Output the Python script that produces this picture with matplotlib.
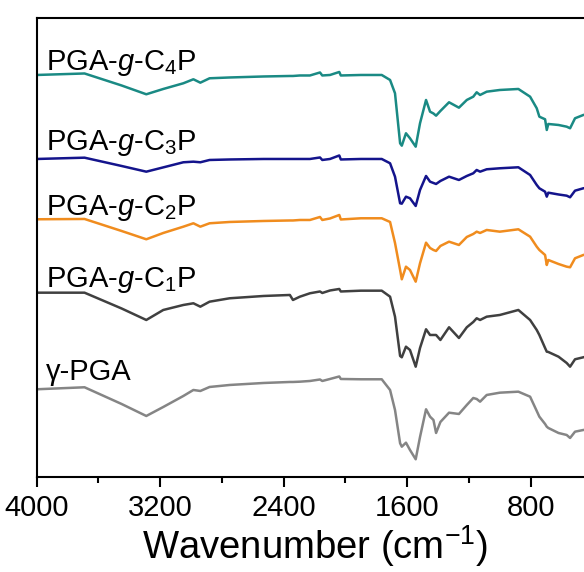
import matplotlib
matplotlib.use("Agg")
from matplotlib import pyplot as plt
from matplotlib.ticker import MultipleLocator

plt.rcParams['font.family'] = ['Liberation Sans', 'DejaVu Sans']
plt.rcParams['mathtext.fontset'] = 'custom'
plt.rcParams['mathtext.rm'] = 'Liberation Sans'
plt.rcParams['mathtext.it'] = 'Liberation Sans:italic'

# wavenumber grid (cm-1)
wavenumber = [4000, 3690, 3450, 3290, 3180, 3050, 2985, 2940, 2880, 2750, 2530, 2360,
              2340, 2295, 2230, 2165, 2150, 2100, 2040, 2030, 1900, 1765, 1711, 1679,
              1646, 1635, 1608, 1582, 1545, 1517, 1478, 1452, 1430, 1413, 1385, 1329,
              1265, 1214, 1172, 1150, 1128, 1085, 1000, 880, 804, 761, 744, 707, 696,
              686, 620, 567, 545, 513, 459, 400]

# stacked intensities (a.u.)
c4p = [402, 403.5, 391.5, 382.7, 388, 393.7, 397.7, 394.3, 398.7, 399.5, 400.5, 401,
       401, 401.5, 401.5, 404.5, 401.5, 402, 405, 401.5, 402, 402, 397, 383.7,
       333.7, 331.3, 343.7, 338.7, 330.3, 353.7, 377, 365.3, 363.5, 361.3, 366, 374.7,
       369.3, 377, 380.3, 384.7, 382, 385.3, 387, 388, 380.3, 368.7, 360.3, 357.7, 347,
       353, 352, 350.3, 348.7, 358.7, 362, 364]
c3p = [318, 319.3, 311, 305.3, 309.6, 314.7, 315.3, 314.7, 317, 317.5, 318, 318,
       318, 318, 318, 319.5, 317, 318, 321.5, 317.5, 318, 318, 313.7, 300.3,
       273.7, 273.3, 280.3, 278.7, 271, 287, 301, 295.3, 294, 293, 296, 300.3,
       297, 301, 303.7, 307, 305.3, 307.7, 308.7, 309.7, 302, 292, 288.7, 285.3, 280.3,
       284.3, 282.5, 281.3, 279.7, 286.3, 288.7, 290]
c2p = [257.7, 258, 246, 237.7, 244, 250.3, 253.7, 250.3, 253.7, 255, 256, 256.5,
       256.5, 257, 257, 260, 257, 258.5, 262, 257.5, 258.7, 258.7, 255, 234,
       207, 197.7, 210.3, 207, 195.3, 213.7, 234.3, 229, 227, 226, 231, 235.3,
       232, 240, 243, 245.3, 244, 247, 245.3, 247.7, 240.3, 230.3, 227, 222, 212,
       217, 213, 210.3, 209.7, 218.7, 222, 224]
c1p = [184.3, 184.3, 168.5, 157, 167, 172, 173.7, 170.3, 175.3, 178.7, 181, 182,
       177, 180.3, 183.7, 185.5, 184, 186.5, 188, 185.5, 186.3, 186.3, 180.3, 160.3,
       121, 119.7, 130.3, 127, 110.3, 129, 147.7, 142, 142, 142, 137, 149.7,
       139, 149.7, 155, 158.7, 157, 160.3, 162, 167, 157, 147, 142, 129, 125.3,
       125, 120.3, 114, 110.3, 117.7, 119.7, 122]
pga = [87.7, 89.7, 73, 61, 70, 81, 87, 86, 90, 92, 94, 95,
       95, 95.3, 96, 97.5, 96, 98, 100.5, 98, 97.7, 97.7, 87, 67,
       33.7, 30.3, 34.3, 27, 17.7, 40, 67.7, 60.3, 57, 44, 55, 64.3,
       63, 72, 79, 78, 75.3, 82, 84.3, 85.3, 80.3, 66, 60.3, 53, 50.3,
       49, 44, 42, 39, 45.3, 47, 48]

series = [c4p, c3p, c2p, c1p, pga]
names = ['PGA-$\\it{g}$-C$_4$P', 'PGA-$\\it{g}$-C$_3$P', 'PGA-$\\it{g}$-C$_2$P',
         'PGA-$\\it{g}$-C$_1$P', 'γ-PGA']
colors = ['#1a8a84', '#14148c', '#f08c1e', '#404040', '#858585']
label_y = [407, 327, 262, 190, 97]

fig = plt.figure(figsize=(5.84, 5.72), dpi=100)
ax = fig.add_axes([0.0628, 0.1656, 0.9517, 0.8035])

for ys, c in zip(series, colors):
    ax.plot(wavenumber, ys, color=c, lw=1.8)

for name, yl in zip(names, label_y):
    ax.text(3940, yl, name, fontsize=21, va='baseline', ha='left')

ax.set_xlim(4000, 400)
ax.set_ylim(-0.3, 459.3)
ax.xaxis.set_major_locator(MultipleLocator(800))
ax.xaxis.set_minor_locator(MultipleLocator(400))
ax.tick_params(axis='x', which='major', direction='out', length=7, width=1.5,
               labelsize=21, pad=5)
ax.tick_params(axis='x', which='minor', direction='out', length=4, width=1.5)
ax.set_yticks([])
for s in ax.spines.values():
    s.set_linewidth(1.5)
ax.set_xlabel('Wavenumber (cm$^{-1}$)', fontsize=27.5, labelpad=1)

fig.savefig('out.png', dpi=100)
